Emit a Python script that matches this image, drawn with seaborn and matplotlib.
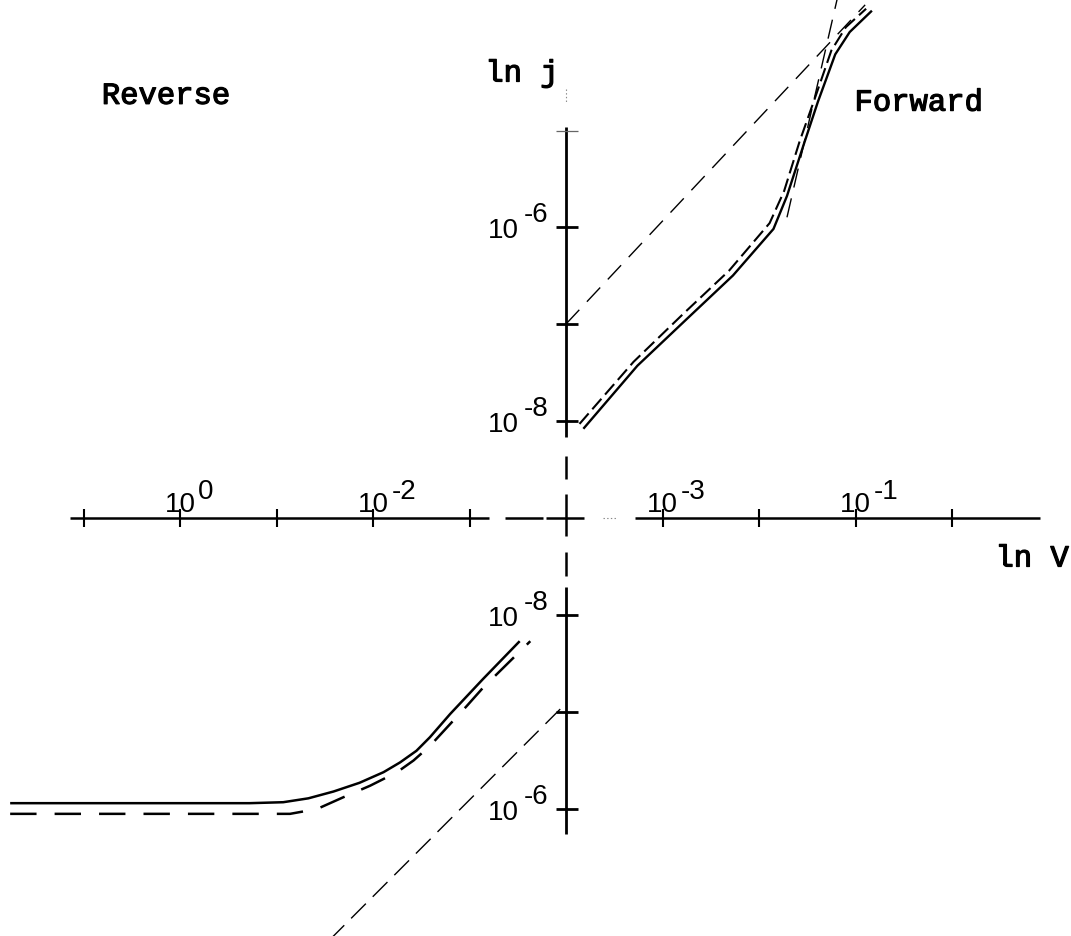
import matplotlib
matplotlib.use("Agg")
import matplotlib.pyplot as plt
import matplotlib.patheffects as pe
import seaborn as sns

# Coordinates are in decades: one unit = one decade on both axes
# (x: ln V, y: ln j); origin where the two axes cross.

# forward branch: measured curve and fitted (dashed) curve
fwd_meas_x = [0.18, 0.74, 1.25, 1.73, 2.15, 2.29, 2.46, 2.61, 2.79, 2.94, 3.17]
fwd_meas_y = [0.92, 1.57, 2.05, 2.50, 2.98, 3.32, 3.84, 4.29, 4.78, 5.01, 5.23]
fwd_fit_x = [0.14, 0.70, 1.21, 1.69, 2.11, 2.26, 2.42, 2.58, 2.75, 2.90, 3.11]
fwd_fit_y = [0.97, 1.61, 2.10, 2.55, 3.04, 3.37, 3.88, 4.33, 4.82, 5.06, 5.25]

# forward asymptotes (ohmic and steep power law)
fwd_ohm_x = [0.0, 3.10]
fwd_ohm_y = [2.0, 5.29]
fwd_steep_x = [2.29, 2.81]
fwd_steep_y = [3.10, 5.35]

# reverse branch: measured curve and fitted (dashed) curve
rev_meas_x = [-5.76, -3.28, -2.93, -2.67, -2.41, -2.14, -1.89, -1.72, -1.55,
              -1.41, -1.20, -0.86, -0.48]
rev_meas_y = [-2.94, -2.94, -2.93, -2.89, -2.82, -2.73, -2.62, -2.52, -2.40,
              -2.26, -2.02, -1.66, -1.27]
rev_fit_x = [-5.76, -3.28, -2.86, -2.58, -2.31, -2.03, -1.75, -1.58, -1.41,
             -1.03, -0.86, -0.37]
rev_fit_y = [-3.05, -3.05, -3.05, -3.00, -2.88, -2.76, -2.62, -2.50, -2.35,
             -1.94, -1.75, -1.27]

# reverse ohmic asymptote
rev_ohm_x = [-0.06, -2.45]
rev_ohm_y = [-1.97, -4.35]

# axis ticks and labels
x_ticks = [-5, -4, -3, -2, -1, 1, 2, 3, 4]
x_label_pos = [-4, -2, 1, 3]
x_label_exp = ["0", "-2", "-3", "-1"]
y_ticks = [1, 2, 3, -1, -2, -3]
y_label_pos = [3, 1, -1, -3]
y_label_exp = ["-6", "-8", "-8", "-6"]

sns.set_style("white")
plt.rcParams["lines.scale_dashes"] = False
plt.rcParams["lines.solid_capstyle"] = "butt"
plt.rcParams["lines.dash_capstyle"] = "butt"

fig = plt.figure(figsize=(10.71, 9.37), dpi=100)
ax = fig.add_axes([0, 0, 1, 1])
ax.set_xlim(-566 / 96.5, (1071 - 566) / 96.5)
ax.set_ylim(-(937 - 519) / 97.0, 519 / 97.0)
ax.set_axis_off()

ink = "black"

# ---- axes with their breaks near the origin ----
h_segments = [((-5.14, -0.80), "-", 1.8, ink),
              ((-0.63, -0.24), "-", 1.8, ink),
              ((-0.21, 0.19), "-", 1.8, ink),
              ((0.38, 0.53), ":", 0.8, "#888888"),
              ((0.72, 4.91), "-", 1.8, ink)]
for (x0, x1), ls, lw, c in h_segments:
    ax.plot([x0, x1], [0, 0], ls=ls, lw=lw, color=c)

v_segments = [((4.42, 4.29), ":", 0.8, "#888888"),
              ((4.03, 0.84), "-", 2.0, ink),
              ((0.64, 0.40), "-", 1.8, ink),
              ((0.25, -0.19), "-", 1.8, ink),
              ((-0.35, -0.60), "-", 1.8, ink),
              ((-0.71, -3.26), "-", 2.0, ink)]
for (y0, y1), ls, lw, c in v_segments:
    ax.plot([0, 0], [y0, y1], ls=ls, lw=lw, color=c)

for t in x_ticks:
    ax.plot([t, t], [-0.09, 0.09], lw=1.5, color=ink)
for t in y_ticks:
    ax.plot([-0.10, 0.12], [t, t], lw=2.0, color=ink)
ax.plot([-0.10, 0.12], [3.99, 3.99], lw=0.9, color="#666666")

# ---- curves ----
def curve(xs, ys, lw, dash=None):
    kw = dict(x=xs, y=ys, sort=False, estimator=None, color=ink,
              linewidth=lw, ax=ax)
    if dash is not None:
        kw["linestyle"] = (0, dash)
    sns.lineplot(**kw)

curve(fwd_meas_x, fwd_meas_y, 1.7)
curve(fwd_fit_x, fwd_fit_y, 1.5, (10, 4))
curve(fwd_ohm_x, fwd_ohm_y, 1.0, (14, 8))
curve(fwd_steep_x, fwd_steep_y, 1.0, (14, 8))

curve(rev_meas_x, rev_meas_y, 1.8)
curve(rev_fit_x, rev_fit_y, 1.8, (19, 13))
curve(rev_ohm_x, rev_ohm_y, 1.0, (15, 7))

# ---- text ----
ink_stroke = [pe.withStroke(linewidth=0.9, foreground=ink)]
word_font = dict(family="Liberation Mono", size=22, color=ink,
                 path_effects=ink_stroke)
num_font = dict(family="Liberation Sans", size=20, color=ink)

ax.text(-4.81, 4.27, "Reverse", ha="left", va="baseline", **word_font)
ax.text(2.99, 4.20, "Forward", ha="left", va="baseline", **word_font)
ax.text(-0.08, 4.50, "ln j", ha="right", va="baseline", **word_font)
ax.text(4.45, -0.50, "ln V", ha="left", va="baseline", **word_font)

for pos, ex in zip(x_label_pos, x_label_exp):
    ax.text(pos, 0.07, "10", ha="center", va="baseline", **num_font)
    ax.text(pos + 0.19, 0.21, ex, ha="left", va="baseline", **num_font)

for pos, ex in zip(y_label_pos, y_label_exp):
    ax.text(-0.49, pos - 0.03, "10", ha="right", va="center", **num_font)
    ax.text(-0.44, pos + 0.06, ex, ha="left", va="baseline", **num_font)

fig.savefig("out.png", dpi=100, facecolor="white")
